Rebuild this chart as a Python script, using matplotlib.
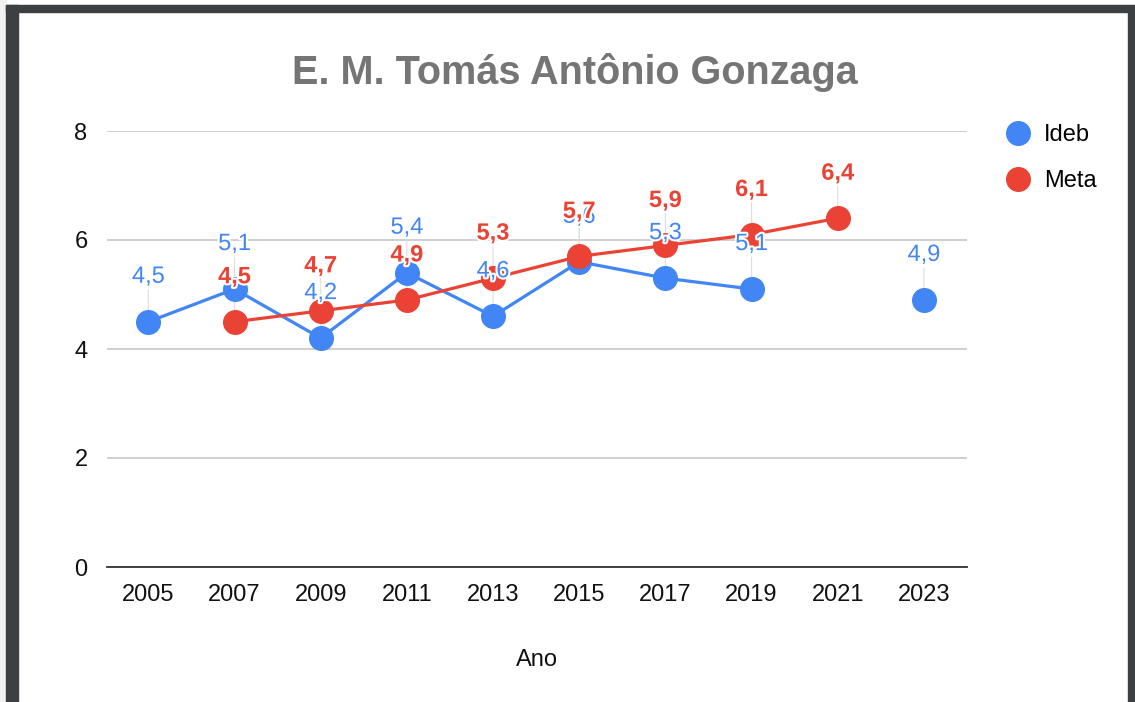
import numpy as np
import matplotlib.pyplot as plt
from matplotlib import rcParams
from matplotlib.patches import Rectangle
import matplotlib.patheffects as pe

rcParams["font.family"] = ["Liberation Sans", "DejaVu Sans"]

# data
anos = ["2005", "2007", "2009", "2011", "2013", "2015", "2017", "2019", "2021", "2023"]
ideb = [4.5, 5.1, 4.2, 5.4, 4.6, 5.6, 5.3, 5.1, np.nan, 4.9]
meta = [np.nan, 4.5, 4.7, 4.9, 5.3, 5.7, 5.9, 6.1, 6.4, np.nan]

azul = "#4285F4"
vermelho = "#EA4335"

W, H = 1135, 702
fig = plt.figure(figsize=(W / 100, H / 100), dpi=100)
fig.patch.set_facecolor("white")

# page frame
fig.patches.append(Rectangle((0, 0), 6 / W, 1, transform=fig.transFigure, color="#f1f1f1", zorder=0))
fig.patches.append(Rectangle((6 / W, 0), 12 / W, 1 - 5 / H, transform=fig.transFigure, color="#3c4043", zorder=1))
fig.patches.append(Rectangle((6 / W, 1 - 12 / H), (1128 - 6) / W, 7 / H, transform=fig.transFigure, color="#3c4043", zorder=1))
fig.patches.append(Rectangle((1128 / W, 0), 7 / W, 1 - 5 / H, transform=fig.transFigure, color="#3c4043", zorder=1))

ax = fig.add_axes([107 / W, 1 - 567 / H, (967 - 107) / W, (567 - 131) / H])
x = np.arange(len(anos))

ax.plot(x, ideb, color=azul, lw=2.3, marker="o", ms=17, zorder=3, label="Ideb")
ax.plot(x, meta, color=vermelho, lw=2.3, marker="o", ms=17, zorder=4, label="Meta")

halo = [pe.withStroke(linewidth=3, foreground="white")]
for serie, cor, peso in [(ideb, azul, "normal"), (meta, vermelho, "bold")]:
    for xi, v in zip(x, serie):
        if np.isnan(v):
            continue
        ax.annotate("", xy=(xi, v), xytext=(0, 32), textcoords="offset pixels",
                    arrowprops=dict(arrowstyle="-", color="#dddddd", lw=0.8, shrinkA=0, shrinkB=0), zorder=1)
        ax.annotate(f"{v:.1f}".replace(".", ","), xy=(xi, v), xytext=(0, 45), textcoords="offset pixels",
                    ha="center", va="center", color=cor, fontsize=17, fontweight=peso,
                    path_effects=halo, zorder=6)

ax.set_xlim(-0.48, 9.5)
ax.set_ylim(0, 8)
ax.set_yticks([0, 2, 4, 6, 8])
ax.set_xticks(x)
ax.set_xticklabels(anos)
ax.tick_params(length=0, labelsize=17, colors="#111111", pad=12)
ax.tick_params(axis="y", pad=14)
ax.grid(axis="y", color="#cccccc", lw=1.3)
ax.set_axisbelow(True)
for s in ["top", "right", "left"]:
    ax.spines[s].set_visible(False)
ax.spines["bottom"].set_color("#333333")
ax.spines["bottom"].set_linewidth(1.3)
ax.set_xlabel("Ano", fontsize=17, color="#111111", labelpad=31)

fig.text(575 / W, 1 - 72 / H, "E. M. Tomás Antônio Gonzaga", ha="center", va="center",
         fontsize=28.5, fontweight="bold", color="#757575")

leg = ax.legend(loc="upper left", bbox_to_anchor=(985 / W, 1 - 103 / H), bbox_transform=fig.transFigure,
                frameon=False, fontsize=17, handlelength=1.0, handletextpad=0.6, labelspacing=1.0)
for h in leg.legend_handles:
    h.set_linestyle("none")

fig.savefig("out.png", dpi=100)
